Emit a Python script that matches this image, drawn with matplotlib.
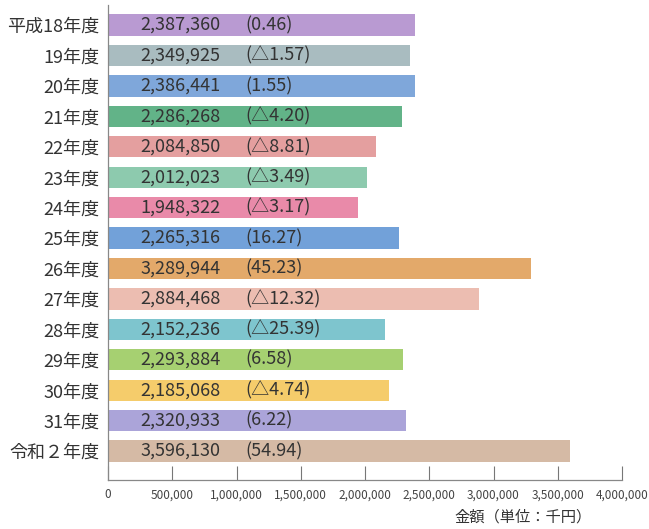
import matplotlib
matplotlib.use("Agg")
import matplotlib.pyplot as plt

plt.rcParams['font.family'] = ['Noto Sans CJK JP', 'DejaVu Sans']

years = ["平成18年度", "19年度", "20年度", "21年度", "22年度", "23年度", "24年度",
         "25年度", "26年度", "27年度", "28年度", "29年度", "30年度", "31年度", "令和２年度"]
amounts = [2387360, 2349925, 2386441, 2286268, 2084850, 2012023, 1948322,
           2265316, 3289944, 2884468, 2152236, 2293884, 2185068, 2320933, 3596130]
changes = ["(0.46)", "(△1.57)", "(1.55)", "(△4.20)", "(△8.81)", "(△3.49)", "(△3.17)",
           "(16.27)", "(45.23)", "(△12.32)", "(△25.39)", "(6.58)", "(△4.74)", "(6.22)", "(54.94)"]
colors = ["#b99ad2", "#a9bcc0", "#7fa7da", "#62b388", "#e49f9f", "#8dcaae", "#e98aa9",
          "#72a1d9", "#e3a96a", "#ecbdb1", "#7ec5ce", "#a6d071", "#f5cc6b", "#aba4d9", "#d5baa5"]
xticks = [0, 500000, 1000000, 1500000, 2000000, 2500000, 3000000, 3500000, 4000000]

fig = plt.figure(figsize=(6.49, 5.29), dpi=100)
ax = fig.add_axes([108/649, 1-480/529, (622-108)/649, (480-5)/529])

ypos = list(range(len(years)))
ax.barh(ypos, amounts, height=0.7, color=colors)
ax.set_ylim(14.95, -0.66)
ax.set_xlim(0, 4000000)

for i, (a, c) in enumerate(zip(amounts, changes)):
    ax.text(255000, i, f"{a:,}", va='center', ha='left', fontsize=13, color='#333333')
    ax.text(1070000, i, c, va='center', ha='left', fontsize=13, color='#333333')

ax.set_yticks(ypos)
ax.set_yticklabels(years, fontsize=13, color='#333333')
ax.tick_params(axis='y', length=0, pad=6)
ax.set_xticks(xticks)
ax.set_xticklabels([f"{v:,}" for v in xticks], fontsize=8.5, color='#444444')
ax.tick_params(axis='x', direction='in', length=10, width=0.8, color='#777777', pad=6)

for s in ['top', 'right']:
    ax.spines[s].set_visible(False)
for s in ['left', 'bottom']:
    ax.spines[s].set_color('#888888')
    ax.spines[s].set_linewidth(0.9)

fig.text(523/649, 1-517/529, "金額（単位：千円）", ha='center', va='center', fontsize=11, color='#333333')

fig.savefig("out.png", dpi=100)
